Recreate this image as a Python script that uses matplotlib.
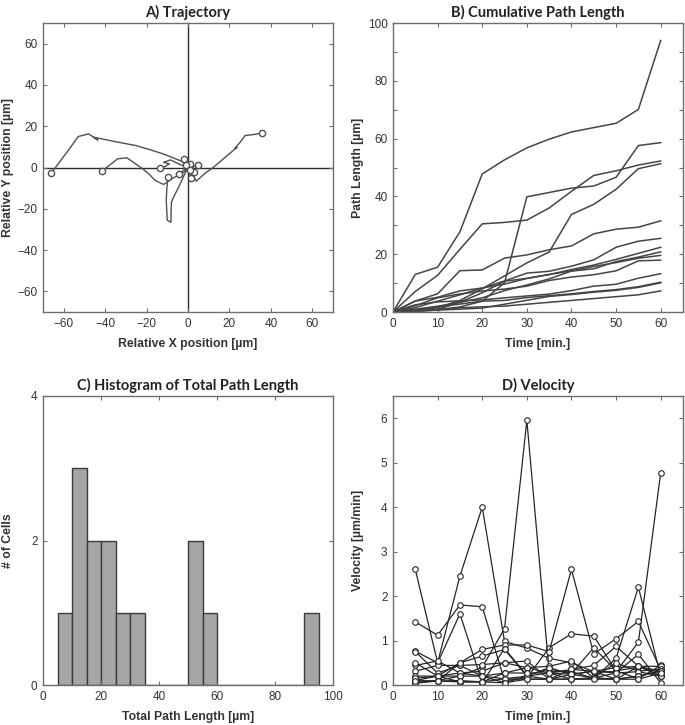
"""
plot.py - Cell migration summary: trajectory, path length, histogram, velocity.
"""

import numpy as np
import matplotlib
matplotlib.use('Agg')
import matplotlib.pyplot as plt
from matplotlib.ticker import FuncFormatter

# time points (min.)
time_points = [0, 5, 10, 15, 20, 25, 30, 35, 40, 45, 50, 55, 60]

# velocity per cell for each 5 min step [um/min]
velocity = [
    [2.6, 0.5, 2.45, 4.0, 0.98, 0.83, 0.6, 0.5, 0.3, 0.3, 0.96, 4.77],
    [1.42, 1.12, 1.8, 1.76, 0.1, 0.16, 0.84, 1.15, 1.1, 0.32, 0.4, 0.28],
    [0.05, 0.1, 0.2, 0.4, 1.27, 5.95, 0.3, 0.3, 0.15, 0.6, 2.2, 0.2],
    [0.1, 0.2, 0.5, 0.8, 0.9, 0.9, 0.75, 2.6, 0.7, 1.04, 1.43, 0.34],
    [0.76, 0.5, 1.6, 0.05, 0.82, 0.22, 0.36, 0.26, 0.84, 0.32, 0.14, 0.44],
    [0.31, 0.44, 0.44, 0.46, 0.5, 0.54, 0.13, 0.35, 0.44, 0.87, 0.42, 0.2],
    [0.75, 0.27, 0.44, 0.2, 0.27, 0.39, 0.27, 0.35, 0.31, 0.39, 0.42, 0.42],
    [0.2, 0.2, 0.27, 0.31, 0.5, 0.39, 0.42, 0.54, 0.16, 0.5, 0.31, 0.36],
    [0.09, 0.09, 0.5, 0.65, 0.8, 0.2, 0.27, 0.24, 0.31, 0.27, 0.3, 0.2],
    [0.44, 0.54, 0.27, 0.2, 0.14, 0.2, 0.39, 0.24, 0.16, 0.27, 0.69, 0.05],
    [0.5, 0.2, 0.07, 0.07, 0.14, 0.13, 0.13, 0.24, 0.31, 0.13, 0.42, 0.31],
    [0.15, 0.2, 0.2, 0.2, 0.05, 0.2, 0.13, 0.13, 0.16, 0.13, 0.2, 0.31],
    [0.04, 0.09, 0.07, 0.07, 0.27, 0.27, 0.27, 0.13, 0.16, 0.13, 0.2, 0.32],
    [0.1, 0.09, 0.1, 0.07, 0.05, 0.13, 0.13, 0.13, 0.13, 0.13, 0.13, 0.27],
]

# relative positions [um], track starts at origin, circle marks the end
traj_x = [
    [0, -3, -8, -12, -18, -25, -35, -45.6, -43.5, -48, -53, -58, -66],
    [0, -2, -7, -11.8, -15.8, -19, -23, -29.5, -34, -38, -41.6],
    [0, 2, 4, 8, 12.4, 18, 23.7, 22.5, 25, 27.6, 32, 35.5],
    [0, -2, -4.5, -7, -8, -8.2, -8.2, -10, -10.5, -10.2, -9.7],
    [0, -4, -8.5, -11.8, -9, -11, -13.7],
    [0, 1, -0.5, -1, -2.1],
    [0, 1.5, 3, 5],
    [0, -1.5, -3, -4.5],
    [0, 0.5, 1.8, 1.4],
    [0, 1, 2.5, 1.9],
    [0, -1, 0.5, 0.4, 1.2],
    [0, 1.5, 2.5, 3],
    [0, -0.5, -1, -1.2],
    [0, 1, 0.5, 0.8],
]
traj_y = [
    [0, 3, 5, 6.6, 8.5, 10.6, 12.5, 14.7, 13.3, 16.3, 15, 8, -2.7],
    [0, -2.3, -5, -8.2, -6.3, -3, 0.2, 4.7, 4.2, 1, -1.8],
    [0, -3, -6.6, -3, 0.2, 5, 9.8, 9.2, 12, 15.5, 16, 16.8],
    [0, -4, -9.5, -14.4, -16.8, -22, -26.5, -25.6, -16, -10, -4.7],
    [0, 1.5, 3.7, 2.5, 1.8, 0.5, -0.3],
    [0, 0.5, 1.5, 2.5, 4.2],
    [0, -0.5, 0.5, 1],
    [0, -1, -2, -3],
    [0, -2, -3.5, -5],
    [0, -1, -1.5, -2.3],
    [0, 1, 2, 3, 1.5],
    [0, -1, -1.5, -2],
    [0, 0.5, 1.2, 1],
    [0, -0.5, -1.5, -1],
]

hist_bins = np.arange(5, 100, 5)

LINE_GREY = '#505050'
AXIS_GREY = '#6e6e6e'
TEXT_GREY = '#333333'
TITLE_FONT = ['Lato', 'DejaVu Sans']
LABEL_FONT = ['Liberation Sans', 'DejaVu Sans']


def style_axes(ax):
    """Box on, small inward ticks on all four sides (MATLAB look)."""
    for sp in ax.spines.values():
        sp.set_color(AXIS_GREY)
        sp.set_linewidth(1.0)
    ax.tick_params(direction='in', top=True, right=True, length=3,
                   width=0.8, color=AXIS_GREY, labelcolor=TEXT_GREY,
                   labelsize=8.5, pad=4)
    for lab in ax.get_xticklabels() + ax.get_yticklabels():
        lab.set_fontfamily(LABEL_FONT)


def set_labels(ax, title, xlabel, ylabel):
    ax.set_title(title, fontsize=10.5, fontweight='bold', family=TITLE_FONT,
                 color='#222222', pad=4)
    ax.set_xlabel(xlabel, fontsize=8.8, fontweight='bold', family=LABEL_FONT,
                  color=TEXT_GREY, labelpad=6)
    ax.set_ylabel(ylabel, fontsize=8.8, fontweight='bold', family=LABEL_FONT,
                  color=TEXT_GREY)
    ax.yaxis.set_label_coords(-0.1, 0.5)


def main():
    t = np.array(time_points)
    vel = [np.array(v) for v in velocity]
    path_len = [np.concatenate([[0.0], np.cumsum(v) * 5]) for v in vel]
    total_len = [p[-1] for p in path_len]

    fig = plt.figure(figsize=(6.85, 7.25), dpi=100)
    w, h = 290 / 685, 289 / 725
    ax_a = fig.add_axes([43 / 685, 1 - 312 / 725, w, h])
    ax_b = fig.add_axes([393 / 685, 1 - 312 / 725, w, h])
    ax_c = fig.add_axes([43 / 685, 1 - 685 / 725, w, h])
    ax_d = fig.add_axes([393 / 685, 1 - 685 / 725, w, h])

    # A) trajectory
    ax_a.axhline(0, color='#2a2a2a', lw=1.0, zorder=1)
    ax_a.axvline(0, color='#2a2a2a', lw=1.0, zorder=1)
    for xs, ys in zip(traj_x, traj_y):
        ax_a.plot(xs, ys, color=LINE_GREY, lw=1.0, zorder=2)
        ax_a.plot(xs[-1], ys[-1], 'o', ms=4.5, mfc='white', mec=LINE_GREY,
                  mew=1.0, zorder=3)
    ax_a.set_xlim(-70, 70)
    ax_a.set_ylim(-70, 70)
    ax_a.set_xticks(range(-60, 61, 20))
    ax_a.set_yticks(range(-60, 61, 20))
    set_labels(ax_a, 'A) Trajectory', 'Relative X position [µm]',
               'Relative Y position [µm]')
    style_axes(ax_a)

    # B) cumulative path length
    for p in path_len:
        ax_b.plot(t, p, color='#454545', lw=1.1)
    ax_b.set_xlim(0, 65)
    ax_b.set_ylim(0, 100)
    ax_b.set_xticks(range(0, 61, 10))
    ax_b.set_yticks(range(0, 101, 10))
    ax_b.yaxis.set_major_formatter(
        FuncFormatter(lambda v, pos: f'{v:.0f}' if int(v) % 20 == 0 else ''))
    set_labels(ax_b, 'B) Cumulative Path Length', 'Time [min.]',
               'Path Length [µm]')
    style_axes(ax_b)

    # C) histogram of total path length
    ax_c.hist(total_len, bins=hist_bins, color='#a6a6a6', edgecolor='#3a3a3a',
              linewidth=1.0)
    ax_c.set_xlim(0, 100)
    ax_c.set_ylim(0, 4)
    ax_c.set_xticks(range(0, 101, 20))
    ax_c.set_yticks([0, 2, 4])
    set_labels(ax_c, 'C) Histogram of Total Path Length',
               'Total Path Length [µm]', '# of Cells')
    style_axes(ax_c)

    # D) velocity
    for v in vel:
        ax_d.plot(t[1:], v, '-o', color='#262626', lw=0.9, ms=4,
                  mfc='white', mec='#262626', mew=0.8)
    ax_d.set_xlim(0, 65)
    ax_d.set_ylim(0, 6.5)
    ax_d.set_xticks(range(0, 61, 10))
    ax_d.set_yticks(range(0, 7))
    set_labels(ax_d, 'D) Velocity', 'Time [min.]', 'Velocity [µm/min]')
    style_axes(ax_d)

    fig.savefig('out.png', dpi=100)
    plt.close(fig)


if __name__ == '__main__':
    main()
